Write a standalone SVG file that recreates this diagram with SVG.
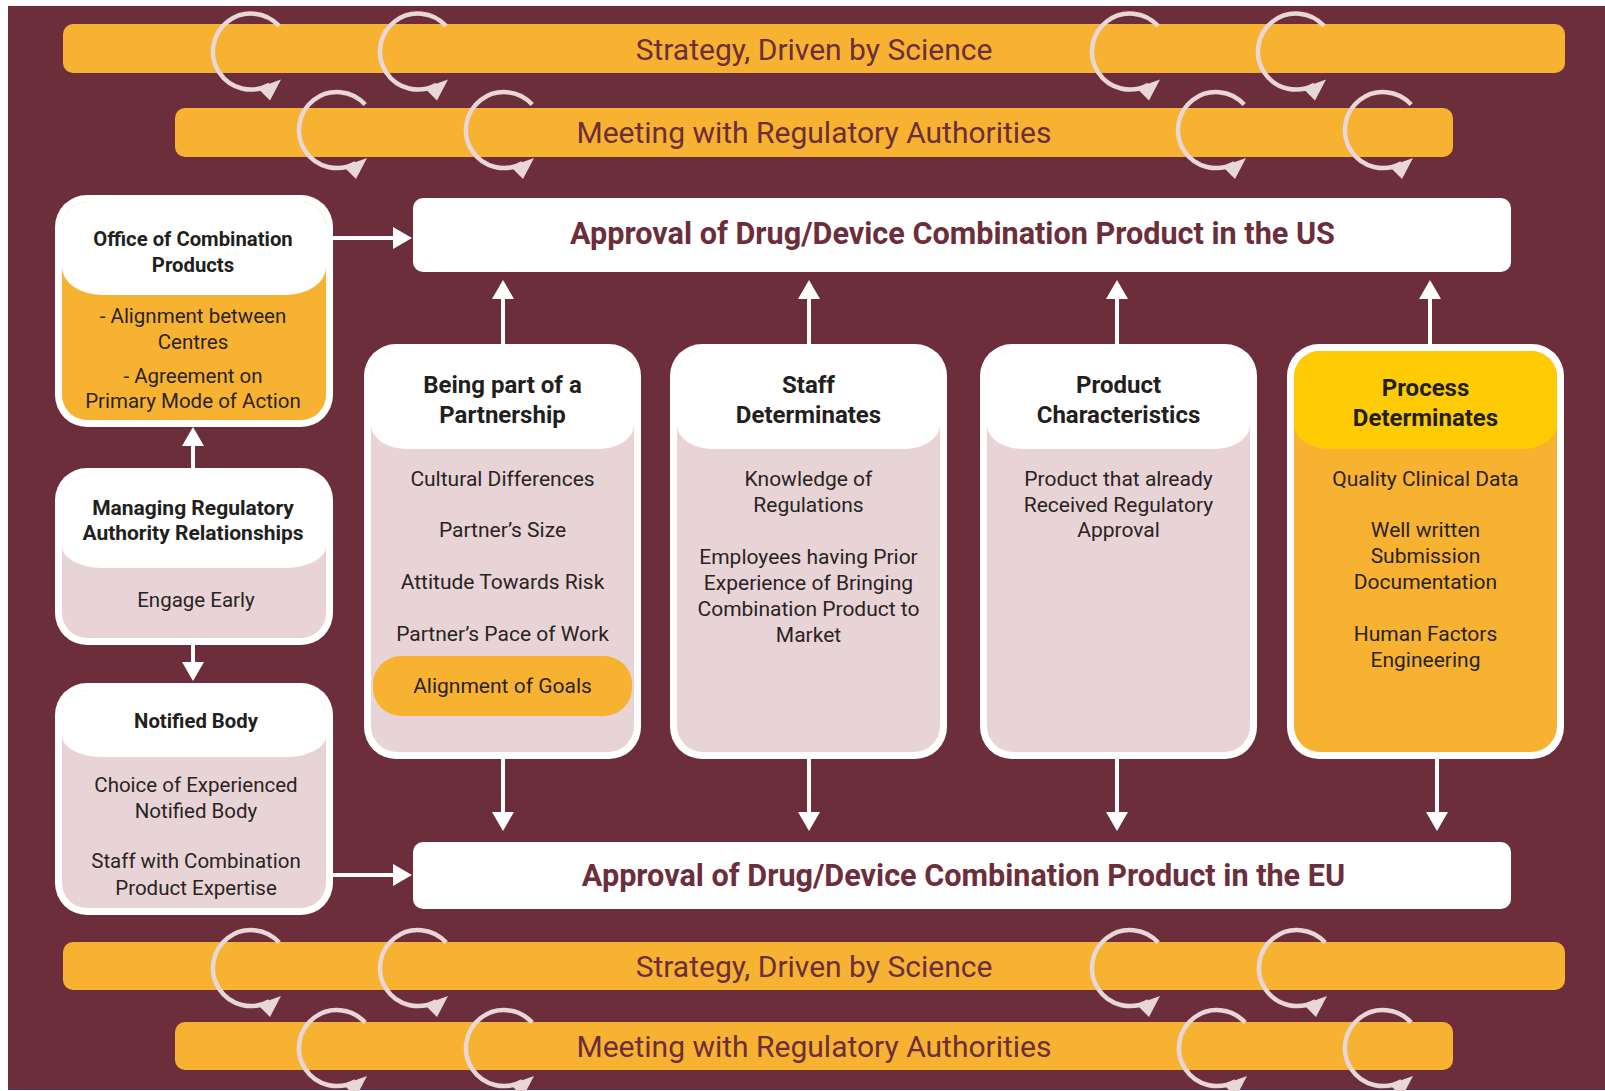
<svg xmlns="http://www.w3.org/2000/svg" width="1605" height="1091" viewBox="0 0 1605 1091">
<defs>
<style>
.bg{fill:#6C2E3B}
.band{fill:#F7B231}
.bandtxt{font-family:Roboto,"Liberation Sans",sans-serif;font-size:30px;fill:#6C2E3B;text-anchor:middle}
.cyc{fill:none;stroke:#E9D6D6;stroke-width:4.5}
.cyh{fill:#E9D6D6}
.frame{fill:#FFFFFF}
.pink{fill:#E8D4D6}
.orange{fill:#F7B231}
.yellow{fill:#FFCB05}
.hdr{fill:#FFFFFF}
.ttl{font-family:Roboto,"Liberation Sans",sans-serif;font-weight:700;font-size:24px;fill:#231F20;text-anchor:middle}
.sttl{font-family:Roboto,"Liberation Sans",sans-serif;font-weight:700;font-size:20.3px;fill:#231F20;text-anchor:middle}
.body{font-family:Roboto,"Liberation Sans",sans-serif;font-size:21px;fill:#2A2324;text-anchor:middle}
.sbody{font-family:Roboto,"Liberation Sans",sans-serif;font-size:20.5px;fill:#2A2324;text-anchor:middle}
.big{font-family:Roboto,"Liberation Sans",sans-serif;font-weight:700;font-size:30.6px;fill:#6C2E3B;text-anchor:middle}
.conn{stroke:#FFFFFF;stroke-width:4;fill:none}
</style>
<marker id="ah" viewBox="0 0 19 22" refX="9" refY="11" markerWidth="19" markerHeight="22" markerUnits="userSpaceOnUse" orient="auto"><path d="M0,0 L19,11 L0,22 Z" fill="#FFFFFF"/></marker>
<g id="cycle"><path class="cyc" d="M28.2,-25.4 A38 38 0 1 0 18.5 33.2"/><path class="cyh" d="M6.5,36.5 L30,28 L19,49 Z"/></g>
</defs>

<rect class="bg" x="8" y="6" width="1597" height="1084"/>

<g id="bands">
<rect class="band" x="63" y="24" width="1502" height="49" rx="10"/>
<rect class="band" x="175" y="108" width="1278" height="49" rx="10"/>
<rect class="band" x="63" y="942" width="1502" height="48" rx="10"/>
<rect class="band" x="175" y="1022" width="1278" height="48" rx="10"/>
<text class="bandtxt" x="814" y="59.5">Strategy, Driven by Science</text>
<text class="bandtxt" x="814" y="143">Meeting with Regulatory Authorities</text>
<text class="bandtxt" x="814" y="976.5">Strategy, Driven by Science</text>
<text class="bandtxt" x="814" y="1057">Meeting with Regulatory Authorities</text>
<use href="#cycle" x="251" y="51.5"/>
<use href="#cycle" x="418" y="51.5"/>
<use href="#cycle" x="1130" y="51.5"/>
<use href="#cycle" x="1296" y="51.5"/>
<use href="#cycle" x="337" y="130"/>
<use href="#cycle" x="504" y="130"/>
<use href="#cycle" x="1216" y="130"/>
<use href="#cycle" x="1383" y="130"/>
<use href="#cycle" x="251" y="968"/>
<use href="#cycle" x="418" y="968"/>
<use href="#cycle" x="1130" y="968"/>
<use href="#cycle" x="1297" y="968"/>
<use href="#cycle" x="337" y="1048"/>
<use href="#cycle" x="504" y="1048"/>
<use href="#cycle" x="1217" y="1048"/>
<use href="#cycle" x="1383" y="1048"/>
</g>

<g id="connectors">
<path class="conn" marker-end="url(#ah)" d="M333,238 H402"/>
<path class="conn" marker-end="url(#ah)" d="M333,875 H402"/>
<path class="conn" marker-end="url(#ah)" d="M193,468 V437"/>
<path class="conn" marker-end="url(#ah)" d="M193,645 V671"/>
<path class="conn" marker-end="url(#ah)" d="M503,344 V290"/>
<path class="conn" marker-end="url(#ah)" d="M809,344 V290"/>
<path class="conn" marker-end="url(#ah)" d="M1117,344 V290"/>
<path class="conn" marker-end="url(#ah)" d="M1430,344 V290"/>
<path class="conn" marker-end="url(#ah)" d="M503,759 V821"/>
<path class="conn" marker-end="url(#ah)" d="M809,759 V821"/>
<path class="conn" marker-end="url(#ah)" d="M1117,759 V821"/>
<path class="conn" marker-end="url(#ah)" d="M1437,759 V821"/>
</g>

<g id="us-approval">
<rect class="frame" x="413" y="198" width="1098" height="74" rx="10"/>
<text class="big" x="952.5" y="244">Approval of Drug/Device Combination Product in the US</text>
</g>

<g id="eu-approval">
<rect class="frame" x="413" y="842" width="1098" height="67" rx="10"/>
<text class="big" x="963.5" y="886">Approval of Drug/Device Combination Product in the EU</text>
</g>

<g id="office-combination-products">
<rect class="frame" x="55" y="195" width="278" height="232" rx="32"/>
<rect class="orange" x="62" y="202" width="264" height="218" rx="25"/>
<path class="hdr" d="M62,227 A25 25 0 0 1 87,202 L301,202 A25 25 0 0 1 326,227 L326,267 A40 28 0 0 1 286,295 L102,295 A40 28 0 0 1 62,267 Z"/>
<text class="sttl" x="193" y="246">Office of Combination</text>
<text class="sttl" x="193" y="272">Products</text>
<text class="sbody" x="193" y="323">- Alignment between</text>
<text class="sbody" x="193" y="349">Centres</text>
<text class="sbody" x="193" y="383">- Agreement on</text>
<text class="sbody" x="193" y="408">Primary Mode of Action</text>
</g>

<g id="managing-relationships">
<rect class="frame" x="55" y="468" width="278" height="177" rx="32"/>
<rect class="pink" x="62" y="475" width="264" height="163" rx="25"/>
<path class="hdr" d="M62,500 A25 25 0 0 1 87,475 L301,475 A25 25 0 0 1 326,500 L326,546 A40 22 0 0 1 286,568 L102,568 A40 22 0 0 1 62,546 Z"/>
<text class="sttl" x="193" y="515" style="font-size:21px">Managing Regulatory</text>
<text class="sttl" x="193" y="540" style="font-size:21px">Authority Relationships</text>
<text class="sbody" x="196" y="607">Engage Early</text>
</g>

<g id="notified-body">
<rect class="frame" x="55" y="683" width="278" height="232" rx="32"/>
<rect class="pink" x="62" y="690" width="264" height="218" rx="25"/>
<path class="hdr" d="M62,715 A25 25 0 0 1 87,690 L301,690 A25 25 0 0 1 326,715 L326,736 A40 21 0 0 1 286,757 L102,757 A40 21 0 0 1 62,736 Z"/>
<text class="sttl" x="196" y="728">Notified Body</text>
<text class="sbody" x="196" y="792">Choice of Experienced</text>
<text class="sbody" x="196" y="818">Notified Body</text>
<text class="sbody" x="196" y="868">Staff with Combination</text>
<text class="sbody" x="196" y="895">Product Expertise</text>
</g>

<g id="partnership">
<rect class="frame" x="364" y="344" width="277" height="415" rx="32"/>
<rect class="pink" x="371" y="351" width="263" height="401" rx="26"/>
<path class="hdr" d="M371,377 A26 26 0 0 1 397,351 L608,351 A26 26 0 0 1 634,377 L634,425 A36 24 0 0 1 598,449 L407,449 A36 24 0 0 1 371,425 Z"/>
<rect class="orange" x="373" y="656" width="259" height="60" rx="28"/>
<text class="ttl" x="502.5" y="393">Being part of a</text>
<text class="ttl" x="502.5" y="423">Partnership</text>
<text class="body" x="502.5" y="486">Cultural Differences</text>
<text class="body" x="502.5" y="537">Partner’s Size</text>
<text class="body" x="502.5" y="589">Attitude Towards Risk</text>
<text class="body" x="502.5" y="641">Partner’s Pace of Work</text>
<text class="body" x="502.5" y="693">Alignment of Goals</text>
</g>

<g id="staff-determinates">
<rect class="frame" x="670" y="344" width="277" height="415" rx="32"/>
<rect class="pink" x="677" y="351" width="263" height="401" rx="26"/>
<path class="hdr" d="M677,377 A26 26 0 0 1 703,351 L914,351 A26 26 0 0 1 940,377 L940,425 A36 24 0 0 1 904,449 L713,449 A36 24 0 0 1 677,425 Z"/>
<text class="ttl" x="808.5" y="393">Staff</text>
<text class="ttl" x="808.5" y="423">Determinates</text>
<text class="body" x="808.5" y="486">Knowledge of</text>
<text class="body" x="808.5" y="512">Regulations</text>
<text class="body" x="808.5" y="564">Employees having Prior</text>
<text class="body" x="808.5" y="590">Experience of Bringing</text>
<text class="body" x="808.5" y="616">Combination Product to</text>
<text class="body" x="808.5" y="642">Market</text>
</g>

<g id="product-characteristics">
<rect class="frame" x="980" y="344" width="277" height="415" rx="32"/>
<rect class="pink" x="987" y="351" width="263" height="401" rx="26"/>
<path class="hdr" d="M987,377 A26 26 0 0 1 1013,351 L1224,351 A26 26 0 0 1 1250,377 L1250,425 A36 24 0 0 1 1214,449 L1023,449 A36 24 0 0 1 987,425 Z"/>
<text class="ttl" x="1118.5" y="393">Product</text>
<text class="ttl" x="1118.5" y="423">Characteristics</text>
<text class="body" x="1118.5" y="486">Product that already</text>
<text class="body" x="1118.5" y="512">Received Regulatory</text>
<text class="body" x="1118.5" y="537">Approval</text>
</g>

<g id="process-determinates">
<rect class="frame" x="1287" y="344" width="277" height="415" rx="32"/>
<rect class="orange" x="1294" y="351" width="263" height="401" rx="26"/>
<path class="yellow" d="M1294,377 A26 26 0 0 1 1320,351 L1531,351 A26 26 0 0 1 1557,377 L1557,425 A36 24 0 0 1 1521,449 L1330,449 A36 24 0 0 1 1294,425 Z"/>
<text class="ttl" x="1425.5" y="396">Process</text>
<text class="ttl" x="1425.5" y="426">Determinates</text>
<text class="body" x="1425.5" y="486">Quality Clinical Data</text>
<text class="body" x="1425.5" y="537">Well written</text>
<text class="body" x="1425.5" y="563">Submission</text>
<text class="body" x="1425.5" y="589">Documentation</text>
<text class="body" x="1425.5" y="641">Human Factors</text>
<text class="body" x="1425.5" y="667">Engineering</text>
</g>
</svg>
